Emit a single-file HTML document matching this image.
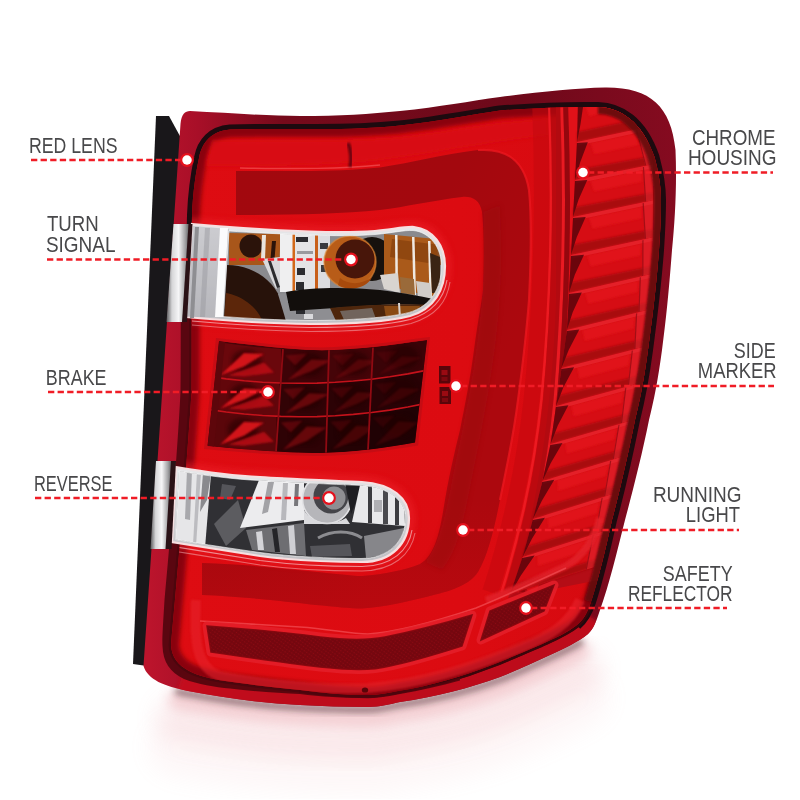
<!DOCTYPE html>
<html><head><meta charset="utf-8"><title>Tail light features</title>
<style>html,body{margin:0;padding:0;background:#fff}svg{display:block}</style>
</head><body>
<svg width="800" height="800" viewBox="0 0 800 800">
<defs>
<linearGradient id="houseG" gradientUnits="userSpaceOnUse" x1="150" y1="0" x2="680" y2="0">
 <stop offset="0" stop-color="#bb142c"/><stop offset="0.09" stop-color="#a80f28"/><stop offset="0.25" stop-color="#760a1b"/><stop offset="0.7" stop-color="#6e091a"/><stop offset="1" stop-color="#860b20"/>
</linearGradient>
<linearGradient id="lensG" gradientUnits="userSpaceOnUse" x1="160" y1="0" x2="660" y2="0">
 <stop offset="0" stop-color="#de0c12"/><stop offset="0.6" stop-color="#dc0b11"/><stop offset="1" stop-color="#d40a10"/>
</linearGradient>
<linearGradient id="tubeG" gradientUnits="userSpaceOnUse" x1="230" y1="160" x2="520" y2="330">
 <stop offset="0" stop-color="#a2080e"/><stop offset="0.6" stop-color="#a3080e"/><stop offset="1" stop-color="#ac080e"/>
</linearGradient>
<linearGradient id="chromeV" x1="0" y1="0" x2="1" y2="0">
 <stop offset="0" stop-color="#5a5a5c"/><stop offset="0.25" stop-color="#d6d6d8"/><stop offset="0.55" stop-color="#f6f6f7"/><stop offset="0.85" stop-color="#a2a2a4"/><stop offset="1" stop-color="#6a6a6c"/>
</linearGradient>
<linearGradient id="winG" x1="0" y1="0" x2="0" y2="1">
 <stop offset="0" stop-color="#e8e8ea"/><stop offset="1" stop-color="#c0c0c4"/>
</linearGradient>
<linearGradient id="reflG" gradientUnits="userSpaceOnUse" x1="0" y1="690" x2="0" y2="790">
 <stop offset="0" stop-color="#e2747c" stop-opacity="0.5"/><stop offset="0.3" stop-color="#ee9096" stop-opacity="0.25"/><stop offset="1" stop-color="#ffffff" stop-opacity="0"/>
</linearGradient>
<pattern id="mesh" width="3" height="3" patternUnits="userSpaceOnUse" patternTransform="rotate(35)">
 <rect width="3" height="3" fill="#7c0810"/><circle cx="1.5" cy="1.5" r="0.8" fill="#9c0d16"/>
</pattern>
<clipPath id="tubeClip"><path d="M236,171 L300,171 C330,171 355,170 380,167.5 C410,163 445,154 478,150 C505,148 524,160 529,190 C532,220 531,260 529,300 C526,340 522,370 518,400 C513,440 506,470 500,500 C494,530 488,555 478,572 C470,584 455,590 430,596 C405,602 385,607 362,608.5 C330,608 262,597 202,595 L202,563 C255,564.5 315,572 352,575.5 C356,576 359,576 362,576 C385,574 405,570 420,564 C434,556 439,535 443,512 C448,480 455,450 460,430 C465,405 470,380 474,350 C478,320 482,300 483,290 C484,260 484,230 482,212 C480,200 472,196 462,197 C435,200 405,207 380,210 C340,214 290,215 236,215 Z"/></clipPath>
<linearGradient id="tubeFade" gradientUnits="userSpaceOnUse" x1="0" y1="500" x2="0" y2="610">
 <stop offset="0" stop-color="#d80b11" stop-opacity="0"/><stop offset="1" stop-color="#d80b11" stop-opacity="0.28"/>
</linearGradient>
<clipPath id="lensClip"><path d="M230,129.5 C255,128.5 278,129 300,129 C340,129.5 370,128.5 400,125.5 C440,121 470,115 500,110.5 C540,107.5 570,106.5 598,107 C620,107.5 642,121 654.5,157 C658,170 661,185 661,200 C661,220 660,235 659,250 C656,290 652,320 648,350 C644,380 640,400 635,420 C628,455 620,490 612,520 C605,552 598,580 591,602 C587,614 583,620 577,625 C567,633 555,638 540,645 C523,652 508,659 492,665 C464,676 430,686 398,691 C388,693 378,695 368,695 C345,695 322,693 300,690 C270,687 245,684 225,681 C198,677 172,669 171,645 C175,600 186,480 191.5,392 C192,330 191,260 192,215 C193,190 196,172 199,158 C202,142 212,131 230,129.5 Z"/></clipPath>
<clipPath id="outClip"><path d="M190,111 C230,113 270,116 300,116 C340,116 370,114 400,111 C440,107 470,101 500,97 C540,92 575,88 605,87.5 C650,87 671,106 675.5,150 C677,185 675,220 672,250 C669,290 666,320 662,350 C658,380 654,400 649,420 C642,455 633,490 625,520 C617,552 609,585 600,610 C596,622 594,628 588,634 C578,642 565,648 550,655 C535,662 518,670 500,677 C470,688 435,697 400,702 C390,704 380,707 368,707 C345,707 322,706 300,705 C262,703 224,698 188,691 C164,686 148,680 143.5,666 L180.5,124 C181.5,114 185,111 190,111 Z"/></clipPath>
<clipPath id="turnClip"><path d="M229,231 C250,232.5 280,234 310,235 C335,236 355,236 375,234.5 C392,233 404,230 413,230.5 C430,232 441.5,248 441.5,266 C441.5,288 431,306 409,312.5 C389,317.5 350,320.5 310,320.5 C275,320 250,318.5 223,316.5 Z"/></clipPath>
<clipPath id="revClip"><path d="M179,471 C205,475.5 235,479.5 260,480.5 C290,482.5 330,484 361,485.5 C388,487 405.5,500 405.5,518 C405.5,541 389,558.5 361,558.5 C330,558.5 290,556.5 260,552.5 C235,549 205,544.5 175.5,539.5 Z"/></clipPath>
<clipPath id="brakeClip"><path d="M219,341 C255,345 290,350 322,350.5 C355,350 390,345 427,340 L415,442.5 C385,448 355,452 322,453 C290,453 250,450 207.5,446 Z"/></clipPath>
<filter id="b1"><feGaussianBlur stdDeviation="0.8"/></filter>
<filter id="b2"><feGaussianBlur stdDeviation="2"/></filter>
<filter id="b3"><feGaussianBlur stdDeviation="3"/></filter>
<filter id="b10" x="-20%" y="-50%" width="140%" height="200%"><feGaussianBlur stdDeviation="11"/></filter>
<filter id="b6" x="-20%" y="-50%" width="140%" height="200%"><feGaussianBlur stdDeviation="6"/></filter>
</defs>
<rect width="800" height="800" fill="#fff"/>

<!-- floor reflection -->
<g fill="none" stroke-linecap="round">
 <path d="M178,689 C181,690 184,691 188,691 C224,698 262,703 300,705 C322,706 345,707 368,707 C380,707 390,704 400,702 C435,697 470,688 500,677 C518,670 535,662 550,655 C562,649 572,645 580,640" transform="translate(0,58)" stroke="#eea0a8" stroke-width="60" opacity="0.08" filter="url(#b10)"/>
 <path d="M178,689 C181,690 184,691 188,691 C224,698 262,703 300,705 C322,706 345,707 368,707 C380,707 390,704 400,702 C435,697 470,688 500,677 C518,670 535,662 550,655 C562,649 572,645 580,640" transform="translate(0,30)" stroke="#e8909a" stroke-width="46" opacity="0.15" filter="url(#b10)"/>
 <path d="M178,689 C181,690 184,691 188,691 C224,698 262,703 300,705 C322,706 345,707 368,707 C380,707 390,704 400,702 C435,697 470,688 500,677 C518,670 535,662 550,655 C562,649 572,645 580,640" transform="translate(0,10)" stroke="#e0808a" stroke-width="20" opacity="0.3" filter="url(#b6)"/>
 <path d="M178,689 C181,690 184,691 188,691 C224,698 262,703 300,705 C322,706 345,707 368,707 C380,707 390,704 400,702 C435,697 470,688 500,677 C518,670 535,662 550,655 C562,649 572,645 580,640" transform="translate(0,2.5)" stroke="#40181c" stroke-width="7" opacity="0.5" filter="url(#b3)"/>
</g>

<!-- bracket -->
<path d="M156,116 L169,116 L181,138 L181,150 L147,666 L133,664 Z" fill="#19171a"/>
<!-- housing -->
<path d="M190,111 C230,113 270,116 300,116 C340,116 370,114 400,111 C440,107 470,101 500,97 C540,92 575,88 605,87.5 C650,87 671,106 675.5,150 C677,185 675,220 672,250 C669,290 666,320 662,350 C658,380 654,400 649,420 C642,455 633,490 625,520 C617,552 609,585 600,610 C596,622 594,628 588,634 C578,642 565,648 550,655 C535,662 518,670 500,677 C470,688 435,697 400,702 C390,704 380,707 368,707 C345,707 322,706 300,705 C262,703 224,698 188,691 C164,686 148,680 143.5,666 L180.5,124 C181.5,114 185,111 190,111 Z" fill="url(#houseG)"/>
<g clip-path="url(#outClip)">
  <path d="M178,689 C181,690 184,691 188,691 C224,698 262,703 300,705 C322,706 345,707 368,707 C380,707 390,704 400,702 C435,697 470,688 500,677 C518,670 535,662 550,655 C562,649 572,645 580,640 C588,634 594,628 598,622" fill="none" stroke="#c60e1c" stroke-width="34" opacity="0.9" filter="url(#b2)"/>
  <path d="M230,129.5 C255,128.5 278,129 300,129 C340,129.5 370,128.5 400,125.5 C440,121 470,115 500,110.5 C540,107.5 570,106.5 598,107 C620,107.5 642,121 654.5,157 C658,170 661,185 661,200 C661,220 660,235 659,250 C656,290 652,320 648,350 C644,380 640,400 635,420 C628,455 620,490 612,520 C605,552 598,580 591,602 C587,614 583,620 577,625 C567,633 555,638 540,645 C523,652 508,659 492,665 C464,676 430,686 398,691 C388,693 378,695 368,695 C345,695 322,693 300,690 C270,687 245,684 225,681 C198,677 172,669 171,645 C175,600 186,480 191.5,392 C192,330 191,260 192,215 C193,190 196,172 199,158 C202,142 212,131 230,129.5 Z" fill="none" stroke="#2a0a10" stroke-width="5"/>
  <path d="M191.8,224 L192,215 C193,190 196,172 199,158 C202,142 212,131 230,129.5 C255,128.5 278,129 300,129 C340,129.5 370,128.5 400,125.5 C440,121 470,115 500,110.5 C540,107.5 570,106.5 598,107 C620,107.5 642,121 654.5,157 C658,170 661,185 661,200 C661,220 660,235 659,250 C656,290 652,320 648,350 C644,380 640,400 635,420 C628,455 620,490 612,520 C605,552 598,580 591,602 C587,614 583,620 577,625" fill="none" stroke="#1d0a0f" stroke-width="10" stroke-linecap="butt"/>
  <path d="M191.8,224 L181,224 C180.5,280 181,340 180.5,392 C177,460 170,540 164.5,600 C163,625 162,640 162.5,646 C163,662 170,672 184,679 C198,684.5 215,687 230,688.5 C255,691.5 280,693 300,694 L300,690 C270,687 245,684 225,681 C198,677 172,669 171,645 C175,600 186,480 191.5,392 C192,330 191,260 191.8,224 Z" fill="#50060d" opacity="0.9"/>
  <path d="M300,690 C322,693 345,695 368,695 C378,695 388,693 398,691 C430,686 464,676 492,665 C508,659 523,652 540,645 C555,638 567,633 577,625 C583,620 587,614 591,602" fill="none" stroke="#3c050b" stroke-width="5.5" opacity="0.9"/>
  <path d="M300,694 C320,696.5 345,698.2 368,698.2 C380,698 390,696 400,694 C420,690.5 440,686 460,680.5 L460,677.5 C440,683.5 418,688 398,691 C388,693 378,695 368,695 C345,695 322,693 300,690 Z" fill="#50060d" opacity="0.9"/>
  <path d="M230,129.5 C255,128.5 278,129 300,129 C340,129.5 370,128.5 400,125.5 C440,121 470,115 500,110.5 C540,107.5 570,106.5 598,107 C620,107.5 642,121 654.5,157 C658,170 661,185 661,200 C661,220 660,235 659,250 C656,290 652,320 648,350 C644,380 640,400 635,420 C628,455 620,490 612,520 C605,552 598,580 591,602 C587,614 583,620 577,625 C567,633 555,638 540,645 C523,652 508,659 492,665 C464,676 430,686 398,691 C388,693 378,695 368,695 C345,695 322,693 300,690 C270,687 245,684 225,681 C198,677 172,669 171,645 C175,600 186,480 191.5,392 C192,330 191,260 192,215 C193,190 196,172 199,158 C202,142 212,131 230,129.5 Z" fill="url(#lensG)"/>
</g>
<g clip-path="url(#lensClip)">
  <!-- inner dark rim of lens -->
  <path d="M230,129.5 C255,128.5 278,129 300,129 C340,129.5 370,128.5 400,125.5 C440,121 470,115 500,110.5 C540,107.5 570,106.5 598,107 C620,107.5 642,121 654.5,157 C658,170 661,185 661,200 C661,220 660,235 659,250 C656,290 652,320 648,350 C644,380 640,400 635,420 C628,455 620,490 612,520 C605,552 598,580 591,602 C587,614 583,620 577,625 C567,633 555,638 540,645 C523,652 508,659 492,665 C464,676 430,686 398,691 C388,693 378,695 368,695 C345,695 322,693 300,690 C270,687 245,684 225,681 C198,677 172,669 171,645 C175,600 186,480 191.5,392 C192,330 191,260 192,215 C193,190 196,172 199,158 C202,142 212,131 230,129.5 Z" fill="none" stroke="#7c060c" stroke-width="16" opacity="0.85" filter="url(#b2)"/>
  <!-- top bright band highlight -->
  <path d="M212,140 C300,141 350,141 400,137 C440,133 480,124 520,121 L548,118 L548,135 C500,140 440,152 380,160 C330,166 260,166 206,166 Z" fill="#d81118" opacity="0.9" filter="url(#b2)"/>
  <path d="M240,168 C300,169 340,169 380,165" stroke="#f0484c" stroke-width="1.5" fill="none" opacity="0.8"/>
  <path d="M348,143 C351,150 352,160 350,167" stroke="#4a060a" stroke-width="3.5" fill="none" opacity="0.8" filter="url(#b1)"/>
  <!-- fins column background -->
  <path d="M556,100 L700,80 L700,560 L508,598 C532,540 552,420 556,300 Z" fill="#b40d16"/>
  <!-- vertical strips between tube and fins -->
  <path d="M540.0,100 C544.0,200 542.0,300 531.5,400 C523.8,470 507.0,540 490.2,592" fill="none" stroke="#c2090f" stroke-width="16" opacity="0.55"/><path d="M549.0,100 C553.0,200 551.0,300 541.4,400 C534.1,470 517.8,540 501.5,592" fill="none" stroke="#ee1c24" stroke-width="2.5" opacity="0.9"/><path d="M555.0,100 C559.0,200 557.0,300 548.0,400 C541.0,470 525.0,540 509.0,592" fill="none" stroke="#b2090f" stroke-width="10" opacity="0.75"/><path d="M561.5,100 C565.5,200 563.5,300 555.1,400 C548.5,470 532.8,540 517.1,592" fill="none" stroke="#ee1c24" stroke-width="3" opacity="0.9"/><path d="M565.5,100 C569.5,200 567.5,300 559.5,400 C553.1,470 537.6,540 522.1,592" fill="none" stroke="#8e070d" stroke-width="5" opacity="0.85"/><path d="M573.0,100 C577.0,200 575.0,300 567.8,400 C561.7,470 546.6,540 531.5,592" fill="none" stroke="#e4121a" stroke-width="10" opacity="0.9"/>
  <polygon points="577.9,104.0 610.2,90.4 644.8,127.4 577.0,142.0" fill="#d60d14"/><polygon points="577.2,132.1 637.2,119.2 644.8,127.4 577.0,142.0" fill="#9a0910" opacity="0.75" filter="url(#b1)"/><polygon points="585.0,105.1 608.6,96.0 618.1,107.9 589.3,116.5" fill="#e4151c" opacity="0.75" filter="url(#b1)"/><polygon points="577.9,104.0 610.2,90.4 613.6,94.1 578.5,107.5" fill="#ea2a32" opacity="0.7"/><polygon points="577.9,105.1 583.4,104.5 580.5,124.0 577.0,142.0" fill="#5c050b" opacity="0.88"/><polygon points="606.6,92.9 610.2,90.4 644.8,127.4 638.0,128.8" fill="#e42832" opacity="0.55"/><polygon points="606.6,92.9 607.1,92.7 639.0,128.6 638.0,128.8" fill="#8a0810" opacity="0.7"/><polygon points="577.0,142.0 644.8,127.4 653.0,164.3 575.0,180.0" fill="#d60d14"/><polygon points="575.5,170.1 651.2,156.2 653.0,164.3 575.0,180.0" fill="#9a0910" opacity="0.75" filter="url(#b1)"/><polygon points="590.6,142.9 636.0,133.1 638.1,145.0 594.2,154.2" fill="#e4151c" opacity="0.75" filter="url(#b1)"/><polygon points="577.0,142.0 644.8,127.4 645.6,131.1 578.2,145.5" fill="#ea2a32" opacity="0.7"/><polygon points="576.9,143.1 587.8,142.3 580.3,162.0 575.0,180.0" fill="#5c050b" opacity="0.88"/><polygon points="636.1,130.0 644.8,127.4 653.0,164.3 645.2,165.9" fill="#e42832" opacity="0.55"/><polygon points="636.1,130.0 637.1,129.8 646.4,165.7 645.2,165.9" fill="#8a0810" opacity="0.7"/><polygon points="575.0,180.0 653.0,164.3 653.0,200.3 573.0,217.0" fill="#d60d14"/><polygon points="573.5,207.4 653.0,192.4 653.0,200.3 573.0,217.0" fill="#9a0910" opacity="0.75" filter="url(#b1)"/><polygon points="590.4,180.5 642.0,170.1 642.0,181.7 593.9,191.5" fill="#e4151c" opacity="0.75" filter="url(#b1)"/><polygon points="575.0,180.0 653.0,164.3 653.0,167.9 576.3,183.4" fill="#ea2a32" opacity="0.7"/><polygon points="574.9,181.1 587.3,180.1 578.6,199.4 573.0,217.0" fill="#5c050b" opacity="0.88"/><polygon points="642.9,167.1 653.0,164.3 653.0,200.3 645.0,202.0" fill="#e42832" opacity="0.55"/><polygon points="642.9,167.1 644.0,166.9 646.2,201.8 645.0,202.0" fill="#8a0810" opacity="0.7"/><polygon points="573.0,217.0 653.0,200.3 653.0,237.3 571.0,255.0" fill="#d60d14"/><polygon points="571.5,245.1 653.0,229.2 653.0,237.3 571.0,255.0" fill="#9a0910" opacity="0.75" filter="url(#b1)"/><polygon points="588.8,217.4 641.8,206.4 641.7,218.3 592.4,228.7" fill="#e4151c" opacity="0.75" filter="url(#b1)"/><polygon points="573.0,217.0 653.0,200.3 653.0,204.0 574.4,220.5" fill="#ea2a32" opacity="0.7"/><polygon points="573.0,218.1 585.7,217.0 576.8,236.9 571.0,255.0" fill="#5c050b" opacity="0.88"/><polygon points="642.6,203.2 653.0,200.3 653.0,237.3 644.8,239.1" fill="#e42832" opacity="0.55"/><polygon points="642.6,203.2 643.8,203.0 646.0,238.8 644.8,239.1" fill="#8a0810" opacity="0.7"/><polygon points="571.0,255.0 653.0,237.3 650.3,274.3 569.0,293.0" fill="#d60d14"/><polygon points="569.5,283.1 650.9,266.2 650.3,274.3 569.0,293.0" fill="#9a0910" opacity="0.75" filter="url(#b1)"/><polygon points="587.2,255.2 641.3,243.5 640.4,255.4 590.6,266.4" fill="#e4151c" opacity="0.75" filter="url(#b1)"/><polygon points="571.0,255.0 653.0,237.3 652.7,241.0 572.4,258.4" fill="#ea2a32" opacity="0.7"/><polygon points="570.9,256.1 584.0,254.8 574.8,274.8 569.0,293.0" fill="#5c050b" opacity="0.88"/><polygon points="642.3,240.4 653.0,237.3 650.3,274.3 642.2,276.2" fill="#e42832" opacity="0.55"/><polygon points="642.3,240.4 643.5,240.1 643.4,275.9 642.2,276.2" fill="#8a0810" opacity="0.7"/><polygon points="569.0,293.0 650.3,274.3 646.4,310.3 567.0,330.0" fill="#d60d14"/><polygon points="567.5,320.4 647.2,302.4 646.4,310.3 567.0,330.0" fill="#9a0910" opacity="0.75" filter="url(#b1)"/><polygon points="585.0,292.9 638.6,280.5 637.4,292.1 588.3,303.8" fill="#e4151c" opacity="0.75" filter="url(#b1)"/><polygon points="569.0,293.0 650.3,274.3 649.9,277.9 570.4,296.3" fill="#ea2a32" opacity="0.7"/><polygon points="568.9,294.1 581.8,292.6 572.7,312.2 567.0,330.0" fill="#5c050b" opacity="0.88"/><polygon points="639.7,277.4 650.3,274.3 646.4,310.3 638.4,312.3" fill="#e42832" opacity="0.55"/><polygon points="639.7,277.4 640.9,277.2 639.6,312.0 638.4,312.3" fill="#8a0810" opacity="0.7"/><polygon points="567.0,330.0 646.4,310.3 642.3,347.3 561.5,368.0" fill="#d60d14"/><polygon points="563.0,358.1 643.2,339.1 642.3,347.3 561.5,368.0" fill="#9a0910" opacity="0.75" filter="url(#b1)"/><polygon points="582.4,329.8 634.8,316.8 633.5,328.6 584.7,340.9" fill="#e4151c" opacity="0.75" filter="url(#b1)"/><polygon points="567.0,330.0 646.4,310.3 646.0,314.0 568.0,333.4" fill="#ea2a32" opacity="0.7"/><polygon points="566.8,331.1 579.3,329.5 568.8,349.7 561.5,368.0" fill="#5c050b" opacity="0.88"/><polygon points="636.0,313.6 646.4,310.3 642.3,347.3 634.2,349.3" fill="#e42832" opacity="0.55"/><polygon points="636.0,313.6 637.2,313.3 635.4,349.0 634.2,349.3" fill="#8a0810" opacity="0.7"/><polygon points="561.5,368.0 642.3,347.3 635.6,384.2 556.1,406.0" fill="#d60d14"/><polygon points="557.5,396.1 637.1,376.1 635.6,384.2 556.1,406.0" fill="#9a0910" opacity="0.75" filter="url(#b1)"/><polygon points="577.1,367.6 630.3,353.9 628.3,365.8 579.3,378.7" fill="#e4151c" opacity="0.75" filter="url(#b1)"/><polygon points="561.5,368.0 642.3,347.3 641.6,351.0 562.6,371.4" fill="#ea2a32" opacity="0.7"/><polygon points="561.4,369.1 574.1,367.3 563.3,387.6 556.1,406.0" fill="#5c050b" opacity="0.88"/><polygon points="631.7,350.7 642.3,347.3 635.6,384.2 627.7,386.4" fill="#e42832" opacity="0.55"/><polygon points="631.7,350.7 632.9,350.4 628.9,386.1 627.7,386.4" fill="#8a0810" opacity="0.7"/><polygon points="556.1,406.0 635.6,384.2 628.7,421.2 550.6,444.0" fill="#d60d14"/><polygon points="552.0,434.1 630.2,413.1 628.7,421.2 550.6,444.0" fill="#9a0910" opacity="0.75" filter="url(#b1)"/><polygon points="571.4,405.4 623.8,391.0 621.7,402.9 573.5,416.4" fill="#e4151c" opacity="0.75" filter="url(#b1)"/><polygon points="556.1,406.0 635.6,384.2 634.9,387.9 557.1,409.4" fill="#ea2a32" opacity="0.7"/><polygon points="555.9,407.1 568.4,405.2 557.8,425.6 550.6,444.0" fill="#5c050b" opacity="0.88"/><polygon points="625.2,387.8 635.6,384.2 628.7,421.2 620.9,423.5" fill="#e42832" opacity="0.55"/><polygon points="625.2,387.8 626.4,387.5 622.1,423.1 620.9,423.5" fill="#8a0810" opacity="0.7"/><polygon points="550.6,444.0 628.7,421.2 620.4,457.2 542.5,481.0" fill="#d60d14"/><polygon points="544.6,471.4 622.3,449.3 620.4,457.2 542.5,481.0" fill="#9a0910" opacity="0.75" filter="url(#b1)"/><polygon points="565.4,443.1 617.0,428.0 614.3,439.6 566.7,453.7" fill="#e4151c" opacity="0.75" filter="url(#b1)"/><polygon points="550.6,444.0 628.7,421.2 627.9,424.8 551.3,447.2" fill="#ea2a32" opacity="0.7"/><polygon points="550.3,445.1 562.5,442.9 550.8,462.9 542.5,481.0" fill="#5c050b" opacity="0.88"/><polygon points="618.4,424.9 628.7,421.2 620.4,457.2 612.6,459.6" fill="#e42832" opacity="0.55"/><polygon points="618.4,424.9 619.6,424.6 613.8,459.2 612.6,459.6" fill="#8a0810" opacity="0.7"/><polygon points="542.5,481.0 620.4,457.2 611.9,494.2 533.0,519.0" fill="#d60d14"/><polygon points="535.5,509.1 613.8,486.1 611.9,494.2 533.0,519.0" fill="#9a0910" opacity="0.75" filter="url(#b1)"/><polygon points="557.2,480.0 608.7,464.3 605.9,476.1 558.1,490.9" fill="#e4151c" opacity="0.75" filter="url(#b1)"/><polygon points="542.5,481.0 620.4,457.2 619.6,460.9 543.1,484.3" fill="#ea2a32" opacity="0.7"/><polygon points="542.2,482.1 554.3,479.8 542.0,500.4 533.0,519.0" fill="#5c050b" opacity="0.88"/><polygon points="610.1,461.0 620.4,457.2 611.9,494.2 604.0,496.7" fill="#e42832" opacity="0.55"/><polygon points="610.1,461.0 611.3,460.7 605.2,496.3 604.0,496.7" fill="#8a0810" opacity="0.7"/><polygon points="533.0,519.0 611.9,494.2 603.1,531.2 522.6,557.0" fill="#d60d14"/><polygon points="525.3,547.1 605.1,523.0 603.1,531.2 522.6,557.0" fill="#9a0910" opacity="0.75" filter="url(#b1)"/><polygon points="547.8,517.8 600.0,501.4 597.1,513.3 548.5,528.6" fill="#e4151c" opacity="0.75" filter="url(#b1)"/><polygon points="533.0,519.0 611.9,494.2 611.1,497.9 533.5,522.3" fill="#ea2a32" opacity="0.7"/><polygon points="532.7,520.1 544.9,517.7 532.1,538.4 522.6,557.0" fill="#5c050b" opacity="0.88"/><polygon points="601.5,498.2 611.9,494.2 603.1,531.2 595.1,533.7" fill="#e42832" opacity="0.55"/><polygon points="601.5,498.2 602.7,497.8 596.3,533.4 595.1,533.7" fill="#8a0810" opacity="0.7"/><polygon points="522.6,557.0 603.1,531.2 593.9,567.2 510.2,594.0" fill="#d60d14"/><polygon points="513.4,584.4 596.0,559.2 593.9,567.2 510.2,594.0" fill="#9a0910" opacity="0.75" filter="url(#b1)"/><polygon points="537.5,555.5 590.9,538.4 587.8,550.0 537.8,566.0" fill="#e4151c" opacity="0.75" filter="url(#b1)"/><polygon points="522.6,557.0 603.1,531.2 602.2,534.8 522.9,560.2" fill="#ea2a32" opacity="0.7"/><polygon points="522.2,558.1 534.6,555.4 520.7,575.8 510.2,594.0" fill="#5c050b" opacity="0.88"/><polygon points="592.5,535.2 603.1,531.2 593.9,567.2 585.5,569.8" fill="#e42832" opacity="0.55"/><polygon points="592.5,535.2 593.7,534.9 586.8,569.4 585.5,569.8" fill="#8a0810" opacity="0.7"/>
  <!-- dark zone between fins and housing line -->
  <path d="M598,107 C620,107.5 642,121 654.5,157 C658,170 661,185 661,200 C661,220 660,235 659,250 C656,290 652,320 648,350 C644,380 640,400 635,420 C628,455 620,490 612,520 C605,552 598,580 591,602" fill="none" stroke="#640810" stroke-width="14" opacity="0.9" filter="url(#b1)"/>
  <!-- ridge under fins -->
  <path d="M486,600 C510,592 540,578 566,566 C584,556 594,540 600,518" fill="none" stroke="#e2202a" stroke-width="7" opacity="0.85" filter="url(#b1)"/>
  <!-- tube -->
  <path d="M236,171 L300,171 C330,171 355,170 380,167.5 C410,163 445,154 478,150 C505,148 524,160 529,190 C532,220 531,260 529,300 C526,340 522,370 518,400 C513,440 506,470 500,500 C494,530 488,555 478,572 C470,584 455,590 430,596 C405,602 385,607 362,608.5 C330,608 262,597 202,595 L202,563 C255,564.5 315,572 352,575.5 C356,576 359,576 362,576 C385,574 405,570 420,564 C434,556 439,535 443,512 C448,480 455,450 460,430 C465,405 470,380 474,350 C478,320 482,300 483,290 C484,260 484,230 482,212 C480,200 472,196 462,197 C435,200 405,207 380,210 C340,214 290,215 236,215 Z" fill="url(#tubeG)"/>
  <g clip-path="url(#tubeClip)"><rect x="190" y="430" width="340" height="190" fill="url(#tubeFade)"/></g>
  <path d="M478,150 C505,148 524,160 529,190 C532,220 531,260 529,300 C526,340 522,370 518,400 C513,440 506,470 500,500" fill="none" stroke="#ea161e" stroke-width="2.2" opacity="0.8"/>
  <!-- tube inner shading: darker inner half on vertical bar -->
  <path d="M483,212 C485,260 484,290 478,335 C472,385 462,430 452,480 C446,510 440,545 425,562 L442,570 C458,550 464,520 470,488 C480,440 490,390 496,340 C502,290 502,250 500,205 Z" fill="#9a080e" opacity="0.5" filter="url(#b2)"/>
  <!-- ridge highlight lines around reflector -->
  <path d="M196,600 C194,640 196,668 220,676 C260,684 320,690 368,688 C420,684 470,668 520,648 C550,636 570,624 580,600" fill="none" stroke="#e8262f" stroke-width="10" opacity="0.55" filter="url(#b1)"/>
  <path d="M200,621 L300,627 C330,629 350,634 368,634 C400,632 440,620 476,608 C500,598 540,580 566,568" fill="none" stroke="#f0474e" stroke-width="1.6" opacity="0.8"/>
  <!-- reflectors -->
  <path d="M207,626 C250,629 290,633 320,637 C345,640 365,641 385,637 C415,631 445,623 472,615 L462,646 C440,653 415,661 390,666 C370,671 350,670 320,667 C285,663 245,657 211,652 Z" fill="none" stroke="#e4202a" stroke-width="9" stroke-linejoin="round" opacity="0.85"/>
  <path d="M481,640 L490,611 L554,585 L544,611 Z" fill="none" stroke="#e4202a" stroke-width="9" stroke-linejoin="round" opacity="0.85"/>
  <path d="M207,626 C250,629 290,633 320,637 C345,640 365,641 385,637 C415,631 445,623 472,615 L462,646 C440,653 415,661 390,666 C370,671 350,670 320,667 C285,663 245,657 211,652 Z" fill="url(#mesh)" stroke="#8c0910" stroke-width="1.5"/>
  <path d="M481,640 L490,611 L554,585 L544,611 Z" fill="url(#mesh)" stroke="#8c0910" stroke-width="1.5"/>
  <path d="M207,626 C250,629 290,633 320,637 C345,640 365,641 385,637 C415,631 445,623 472,615 L462,646 C440,653 415,661 390,666 C370,671 350,670 320,667 C285,663 245,657 211,652 Z" fill="#5a050a" opacity="0.25"/>
  <path d="M481,640 L490,611 L554,585 L544,611 Z" fill="#5a050a" opacity="0.25"/>
  <ellipse cx="365" cy="690" rx="3.2" ry="2.6" fill="#5a0509"/>
</g>

<!-- glows around windows -->
<g clip-path="url(#lensClip)"><g fill="none" stroke="#ee222a" filter="url(#b3)" opacity="0.55">
  <path d="M192,224 C230,227.5 270,230 310,231.5 C335,232.5 355,232.5 375,231 C392,229.5 404,226.5 414,227 C433,229 445,246 445,266 C445,290 434,309 410,316 C390,321 350,324 310,324 C270,323.5 230,321 186,317 Z" stroke-width="12"/>
  <path d="M176,467 C205,472 235,476 260,477 C290,479 330,480.5 362,482 C392,484 409,498 409,518 C409,543 392,562 362,562 C330,562 290,560 260,556 C235,552 205,547 172,542 Z" stroke-width="12"/>
</g></g>
<!-- reflection lines under windows -->
<g fill="none" stroke="#f4b4b8" stroke-width="1.1" opacity="0.75" clip-path="url(#lensClip)">
  <path d="M447,280 C444,298 434,312 410,319.5 C390,324.5 350,327.5 310,327.5 C270,327 230,324.5 192,321"/>
  <path d="M450,282 C447,302 436,316 411,323.5 C390,328.5 350,331.5 310,331.5 C270,331 230,328.5 192,325" opacity="0.7"/>
  <path d="M412,530 C409,550 392,566 362,566.5 C330,566.5 290,564.5 260,560.5 C235,556.5 205,551.5 176,547"/>
  <path d="M415,533 C411,555 393,570.5 362,571 C330,571 290,569 260,565 C235,561 205,556 176,551.5" opacity="0.7"/>
</g>
<!-- side marker -->
<rect x="439" y="366" width="11.5" height="17.5" fill="#5a050a"/><rect x="439.5" y="387" width="11.5" height="17" fill="#5a050a"/>
<rect x="441.5" y="370" width="6" height="5" fill="#9a0a12"/><rect x="442" y="391" width="6" height="5" fill="#9a0a12"/>
<rect x="441.5" y="377" width="6" height="4" fill="#7e080f"/><rect x="442" y="398" width="6" height="4" fill="#7e080f"/>

<!-- brake -->
<path d="M216,338 C255,342 290,347 322,347.5 C355,347 390,342 430,337 L418,445.5 C385,451 355,455 322,456 C290,456 250,453 204,449 Z" fill="#b80d15" opacity="0.6"/>
<g clip-path="url(#brakeClip)">
<path d="M219,341 C255,345 290,350 322,350.5 C355,350 390,345 427,340 L415,442.5 C385,448 355,452 322,453 C290,453 250,450 207.5,446 Z" fill="#4a0408"/>
<polygon points="203.8,339.5 216.7,341.8 229.6,343.8 242.5,345.5 255.5,346.9 268.4,348.1 281.3,349.0 281.3,383.0 268.4,382.5 255.5,381.7 242.5,380.6 229.6,379.3 216.7,377.7 203.8,375.8" fill="#6a070c"/><ellipse cx="246.5" cy="361.5" rx="15" ry="12" fill="#240204" opacity="0.55" filter="url(#b2)"/><path d="M220.0,375.6 L244.0,352.9 L264.0,353.9 L244.0,366.6 Z" fill="#e0121b" opacity="0.92" filter="url(#b1)"/><path d="M228.0,375.6 L264.0,362.6 L274.0,372.6 L244.0,376.6 Z" fill="#c30e17" opacity="0.8" filter="url(#b1)"/><polygon points="281.3,349.0 289.1,349.4 297.0,349.7 304.8,349.9 312.6,350.0 320.4,350.0 328.3,349.9 328.3,382.7 320.4,383.0 312.6,383.2 304.8,383.3 297.0,383.3 289.1,383.2 281.3,383.0" fill="#3e0307"/><ellipse cx="308.8" cy="364.6" rx="15" ry="12" fill="#240204" opacity="0.55" filter="url(#b2)"/><path d="M287.3,380.3 L311.3,359.5 L331.3,360.5 L311.3,371.3 Z" fill="#e0121b" opacity="0.34" filter="url(#b1)"/><path d="M285.3,355.5 L307.3,353.5 L295.3,365.5 Z" fill="#b30c15" opacity="0.34" filter="url(#b1)"/><polygon points="328.3,349.9 335.5,349.7 342.8,349.5 350.0,349.1 357.3,348.7 364.5,348.2 371.8,347.6 371.8,379.1 364.5,379.9 357.3,380.7 350.0,381.3 342.8,381.8 335.5,382.3 328.3,382.7" fill="#450408"/><ellipse cx="354.0" cy="362.9" rx="15" ry="12" fill="#240204" opacity="0.55" filter="url(#b2)"/><path d="M334.3,379.1 L358.3,359.6 L378.3,360.6 L358.3,370.1 Z" fill="#e0121b" opacity="0.2" filter="url(#b1)"/><path d="M332.3,355.6 L354.3,353.6 L342.3,365.6 Z" fill="#b30c15" opacity="0.2" filter="url(#b1)"/><polygon points="371.8,347.6 381.1,346.7 390.4,345.6 399.7,344.5 409.0,343.1 418.3,341.7 427.6,340.1 427.6,370.1 418.3,371.9 409.0,373.7 399.7,375.2 390.4,376.7 381.1,378.0 371.8,379.1" fill="#3a0307"/><ellipse cx="403.7" cy="357.2" rx="15" ry="12" fill="#240204" opacity="0.55" filter="url(#b2)"/><path d="M377.8,374.9 L401.8,356.6 L421.8,357.6 L401.8,365.9 Z" fill="#e0121b" opacity="0.13" filter="url(#b1)"/><path d="M375.8,352.6 L397.8,350.6 L385.8,362.6 Z" fill="#b30c15" opacity="0.13" filter="url(#b1)"/><polygon points="202.2,375.5 215.0,377.4 227.8,379.1 240.6,380.4 253.4,381.5 266.3,382.4 279.1,383.0 279.1,416.4 266.3,415.7 253.4,414.8 240.6,413.7 227.8,412.2 215.0,410.4 202.2,408.4" fill="#62060b"/><ellipse cx="244.6" cy="395.4" rx="15" ry="12" fill="#240204" opacity="0.55" filter="url(#b2)"/><path d="M220.0,408.7 L244.0,388.6 L264.0,389.6 L244.0,399.7 Z" fill="#e0121b" opacity="0.92" filter="url(#b1)"/><path d="M228.0,408.7 L264.0,395.7 L274.0,405.7 L244.0,409.7 Z" fill="#c30e17" opacity="0.8" filter="url(#b1)"/><polygon points="279.1,383.0 287.1,383.2 295.1,383.3 303.2,383.3 311.2,383.2 319.3,383.0 327.3,382.7 327.3,416.2 319.3,416.5 311.2,416.7 303.2,416.8 295.1,416.8 287.1,416.6 279.1,416.4" fill="#320306"/><ellipse cx="307.2" cy="398.0" rx="15" ry="12" fill="#240204" opacity="0.55" filter="url(#b2)"/><path d="M285.1,413.7 L309.1,393.2 L329.1,394.2 L309.1,404.7 Z" fill="#e0121b" opacity="0.34" filter="url(#b1)"/><path d="M283.1,389.2 L305.1,387.2 L293.1,399.2 Z" fill="#b30c15" opacity="0.34" filter="url(#b1)"/><polygon points="327.3,382.7 334.5,382.4 341.6,381.9 348.8,381.4 355.9,380.8 363.0,380.1 370.2,379.3 370.2,412.7 363.0,413.5 355.9,414.2 348.8,414.8 341.6,415.4 334.5,415.8 327.3,416.2" fill="#2c0205"/><ellipse cx="352.8" cy="395.8" rx="15" ry="12" fill="#240204" opacity="0.55" filter="url(#b2)"/><path d="M333.3,412.7 L357.3,392.2 L377.3,393.2 L357.3,403.7 Z" fill="#e0121b" opacity="0.2" filter="url(#b1)"/><path d="M331.3,388.2 L353.3,386.2 L341.3,398.2 Z" fill="#b30c15" opacity="0.2" filter="url(#b1)"/><polygon points="370.2,379.3 379.2,378.2 388.3,377.0 397.3,375.6 406.3,374.1 415.3,372.5 424.4,370.7 424.4,403.8 415.3,405.6 406.3,407.3 397.3,408.9 388.3,410.3 379.2,411.6 370.2,412.7" fill="#280205"/><ellipse cx="401.3" cy="389.6" rx="15" ry="12" fill="#240204" opacity="0.55" filter="url(#b2)"/><path d="M376.2,408.4 L400.2,388.1 L420.2,389.1 L400.2,399.4 Z" fill="#e0121b" opacity="0.13" filter="url(#b1)"/><path d="M374.2,384.1 L396.2,382.1 L384.2,394.1 Z" fill="#b30c15" opacity="0.13" filter="url(#b1)"/><polygon points="200.5,408.1 213.2,410.2 225.9,412.0 238.6,413.4 251.3,414.7 264.0,415.6 276.7,416.3 276.7,452.5 264.0,451.7 251.3,450.7 238.6,449.5 225.9,448.0 213.2,446.2 200.5,444.1" fill="#5a060a"/><ellipse cx="242.6" cy="429.9" rx="15" ry="12" fill="#240204" opacity="0.55" filter="url(#b2)"/><path d="M220.0,444.7 L244.0,421.7 L264.0,422.7 L244.0,435.7 Z" fill="#e0121b" opacity="0.92" filter="url(#b1)"/><path d="M228.0,444.7 L264.0,431.7 L274.0,441.7 L244.0,445.7 Z" fill="#c30e17" opacity="0.8" filter="url(#b1)"/><polygon points="276.7,416.3 285.0,416.6 293.3,416.7 301.5,416.8 309.8,416.7 318.1,416.5 326.3,416.2 326.3,452.8 318.1,453.0 309.8,453.2 301.5,453.1 293.3,453.0 285.0,452.8 276.7,452.5" fill="#2e0205"/><ellipse cx="305.5" cy="433.0" rx="15" ry="12" fill="#240204" opacity="0.55" filter="url(#b2)"/><path d="M282.7,449.9 L306.7,426.6 L326.7,427.6 L306.7,440.9 Z" fill="#e0121b" opacity="0.34" filter="url(#b1)"/><path d="M280.7,422.6 L302.7,420.6 L290.7,432.6 Z" fill="#b30c15" opacity="0.34" filter="url(#b1)"/><polygon points="326.3,416.2 333.4,415.9 340.4,415.5 347.4,414.9 354.5,414.3 361.5,413.7 368.5,412.9 368.5,450.0 361.5,450.6 354.5,451.2 347.4,451.8 340.4,452.2 333.4,452.5 326.3,452.8" fill="#240204"/><ellipse cx="351.4" cy="431.0" rx="15" ry="12" fill="#240204" opacity="0.55" filter="url(#b2)"/><path d="M332.3,449.4 L356.3,425.7 L376.3,426.7 L356.3,440.4 Z" fill="#e0121b" opacity="0.2" filter="url(#b1)"/><path d="M330.3,421.7 L352.3,419.7 L340.3,431.7 Z" fill="#b30c15" opacity="0.2" filter="url(#b1)"/><polygon points="368.5,412.9 377.3,411.8 386.0,410.6 394.8,409.3 403.5,407.8 412.3,406.2 421.1,404.5 421.1,442.3 412.3,443.9 403.5,445.4 394.8,446.7 386.0,447.9 377.3,449.0 368.5,450.0" fill="#200204"/><ellipse cx="398.8" cy="425.4" rx="15" ry="12" fill="#240204" opacity="0.55" filter="url(#b2)"/><path d="M374.5,445.9 L398.5,421.6 L418.5,422.6 L398.5,436.9 Z" fill="#e0121b" opacity="0.13" filter="url(#b1)"/><path d="M372.5,417.6 L394.5,415.6 L382.5,427.6 Z" fill="#b30c15" opacity="0.13" filter="url(#b1)"/><polyline points="208.0,376.4 226.2,378.9 244.3,380.8 262.5,382.2 280.7,383.0 298.8,383.3 317.0,383.1 335.2,382.3 353.3,381.0 371.5,379.2 389.7,376.8 407.8,373.9 426.0,370.4" stroke="#c4121b" stroke-width="1.6" fill="none"/><polyline points="208.0,409.4 226.2,412.0 244.3,414.0 262.5,415.5 280.7,416.4 298.8,416.8 317.0,416.6 335.2,415.8 353.3,414.4 371.5,412.5 389.7,410.1 407.8,407.0 426.0,403.4" stroke="#c4121b" stroke-width="1.6" fill="none"/><path d="M283.0,349.1 L276.0,452.4" stroke="#8f0a12" stroke-width="1.8" fill="none"/><path d="M329.0,349.9 L326.0,452.8" stroke="#8f0a12" stroke-width="1.8" fill="none"/><path d="M373.0,347.5 L368.0,450.0" stroke="#8f0a12" stroke-width="1.8" fill="none"/><path d="M219,341 L207.5,446 L214,447 L225,342 Z" fill="#5e060b"/>
</g>

<!-- turn window -->
<path d="M192,224 C230,227.5 270,230 310,231.5 C335,232.5 355,232.5 375,231 C392,229.5 404,226.5 414,227 C433,229 445,246 445,266 C445,290 434,309 410,316 C390,321 350,324 310,324 C270,323.5 230,321 186,317 Z" fill="url(#winG)" stroke="#f6dfe0" stroke-width="2.2"/>
<path d="M193,226 L229,229 L223,317 L187,317 Z" fill="#a8a8ae" opacity="0.42"/>
<path d="M195,227 L199,227 L194,318 L190,318 Z" fill="#8e8e92"/>
<path d="M205,228 L210,228 L205,317 L200,317 Z" fill="#9a9aa0" opacity="0.5"/>
<path d="M220,228 L228,228 L223,317 L215,317 Z" fill="#fbfbfc"/>
<g clip-path="url(#turnClip)"><g transform="translate(0,3)">
  <rect x="220" y="220" width="225" height="94" fill="#8a8a8e"/>
  <!-- left amber block + dark circle -->
  <path d="M229,230 L281,231 L279,262 L229,262 Z" fill="#a8561a"/>
  <circle cx="251" cy="243" r="11.5" fill="#2b130a"/>
  <path d="M262,232 L266,232 L265,256 L261,256 Z" fill="#e9e4de"/><path d="M272,238 L276,238 L274,262 L270,262 Z" fill="#2b130a"/>
  <!-- big dark quarter disc -->
  <path d="M227,262 C258,262 284,284 286,318 L224,318 Z" fill="#27120a"/>
  <path d="M226,290 C240,292 258,304 262,318 L224,318 Z" fill="#6a2c0a" opacity="0.8"/>
  <!-- thin stripes between -->
  <path d="M262,256 L280,254 L283,280 L276,286 Z" fill="#d9d9dc"/><path d="M268,258 L271,258 L280,284 L277,285 Z" fill="#2b2b2e"/>
  <!-- white facets -->
  <rect x="280" y="231" width="13" height="58" fill="#efeff0"/>
  <rect x="292.5" y="231" width="2.5" height="58" fill="#d2691a"/>
  <rect x="295" y="231" width="20" height="58" fill="#e4e4e6"/>
  <rect x="315" y="231" width="3" height="60" fill="#c9601a"/>
  <rect x="318" y="231" width="12" height="58" fill="#dcdcdf"/>
  <rect x="296" y="234" width="12" height="5" fill="#2c2c30"/><rect x="297" y="248" width="16" height="3" fill="#9a9a9e"/>
  <rect x="297" y="265" width="8" height="7" fill="#2c2c30"/><rect x="296" y="279" width="8" height="8" fill="#2c2c30"/>
  <rect x="320" y="240" width="8" height="6" fill="#3a3a3e"/><rect x="321" y="262" width="7" height="7" fill="#3a3a3e"/>
  <!-- lower-left gray with dark squares -->
  <path d="M278,291 L330,286 L336,318 L286,318 Z" fill="#8e8e92"/>
  <rect x="288" y="294" width="9" height="6" fill="#2a2a2e"/><rect x="304" y="291" width="9" height="6" fill="#d8d8db"/><rect x="296" y="304" width="9" height="7" fill="#2a2a2e"/><rect x="312" y="300" width="9" height="6" fill="#2a2a2e"/><rect x="304" y="311" width="9" height="5" fill="#dadadd"/>
  <!-- black crescent behind bulb -->
  <circle cx="372" cy="256" r="22" fill="#17110d"/>
  <!-- bulb -->
  <circle cx="350" cy="259" r="26" fill="#b85c18"/>
  <circle cx="350" cy="259" r="26" fill="none" stroke="#e08a3a" stroke-width="1.5" opacity="0.6"/>
  <circle cx="355" cy="256" r="19.5" fill="#48160a"/>
  <path d="M340,275 C348,282 362,282 372,274 C368,284 350,290 338,282 Z" fill="#a84a0c"/>
  <!-- right amber facets -->
  <path d="M384,231 L436,236 L442,296 L384,282 Z" fill="#aa5a1a"/>
  <path d="M392,236 L440,242 L441,262 L390,254 Z" fill="#8a420e" opacity="0.8"/>
  <path d="M395,232 L397.5,232 L398,288 L395.5,288 Z" fill="#efe9e2"/><path d="M412,234 L414.5,234 L416,292 L413.5,292 Z" fill="#efe9e2"/><path d="M428,238 L430.5,238 L432,294 L429.5,294 Z" fill="#efe9e2"/>
  <path d="M380,272 L398,270 L400,290 L384,286 Z" fill="#d8d4d0"/><path d="M400,274 L414,276 L415,292 L401,290 Z" fill="#9a6a3a"/><path d="M416,278 L430,280 L432,296 L418,294 Z" fill="#d0ccc8"/>
  <path d="M430,250 L440,254 L440,290 L432,290 Z" fill="#3a2414"/>
  <!-- dark swoosh -->
  <path d="M286,289 C310,284 350,284 380,287 C405,290 425,294 442,298 L442,303 C420,302 400,300 380,302 C350,304 320,306 290,308 Z" fill="#120e0c"/>
  <!-- below swoosh -->
  <path d="M330,305 C360,302 400,300 440,302 L430,318 L336,318 Z" fill="#4e260c"/>
  <path d="M340,308 L372,305 L376,316 L344,317 Z" fill="#7a7470" opacity="0.8"/>
  <path d="M384,303 L420,303 L416,314 L386,315 Z" fill="#8a4a14"/>
  <path d="M398,300 L400,300 L401,316 L399,316 Z" fill="#d8d4d0"/>
</g></g>
<path d="M229,231 C250,232.5 280,234 310,235 C335,236 355,236 375,234.5 C392,233 404,230 413,230.5 C430,232 441.5,248 441.5,266 C441.5,288 431,306 409,312.5 C389,317.5 350,320.5 310,320.5 C275,320 250,318.5 223,316.5 Z" fill="none" stroke="#ffffff" stroke-width="1" opacity="0.6"/>

<!-- reverse window -->
<path d="M176,467 C205,472 235,476 260,477 C290,479 330,480.5 362,482 C392,484 409,498 409,518 C409,543 392,562 362,562 C330,562 290,560 260,556 C235,552 205,547 172,542 Z" fill="url(#winG)" stroke="#f6dfe0" stroke-width="2.2"/>
<g clip-path="url(#revClip)">
  <rect x="170" y="460" width="245" height="110" fill="#303034"/>
  <!-- light left facets -->
  <path d="M170,466 L211,474 L205,548 L168,542 Z" fill="#e6e6e8"/>
  <path d="M187,470 L192,471 L190,520 L185,519 Z" fill="#a8a8ac"/><path d="M197,472 L201,473 L196,546 L193,545 Z" fill="#bcbcc0"/>
  <path d="M203,473 L211,474 L207,500 L200,512 Z" fill="#8a8a8e"/>
  <!-- dark zone highlights -->
  <path d="M214,524 L238,500 L246,528 L226,546 Z" fill="#5c5c60"/>
  <path d="M222,484 L236,486 L230,500 L220,498 Z" fill="#55555a"/>
  <!-- white facets (upper middle) -->
  <path d="M259,480 L304,483 L304,520 L240,528 Z" fill="#ececee"/>
  <path d="M268,482 L274,482 L268,512 L262,514 Z" fill="#a2a2a6"/><path d="M283,483 L288,483 L286,520 L281,520 Z" fill="#b8b8bc"/><path d="M295,484 L299,484 L298,506 L294,506 Z" fill="#77777b"/>
  <!-- lower middle streaks -->
  <path d="M246,530 L304,523 L306,556 L252,550 Z" fill="#6e6e72"/>
  <path d="M256,532 L262,531 L264,550 L258,550 Z" fill="#d4d4d8"/><path d="M272,529 L277,528 L280,552 L275,552 Z" fill="#242428"/><path d="M288,526 L294,525 L296,554 L290,554 Z" fill="#cfcfd3"/>
  <!-- bulb -->
  <circle cx="327" cy="499" r="24.5" fill="#b6b6ba"/>
  <circle cx="327" cy="499" r="24.5" fill="none" stroke="#e2e2e5" stroke-width="1.6"/>
  <circle cx="331" cy="496" r="17.5" fill="#45454a"/>
  <circle cx="334" cy="498" r="11.5" fill="#8e8e92"/>
  <path d="M304,510 C310,522 330,528 346,518 L350,524 L304,524 Z" fill="#dadadd"/>
  <!-- dark triangle right of bulb -->
  <path d="M345,483 L363,485 L351,514 Z" fill="#1e1e22"/>
  <!-- right stripes -->
  <path d="M360,485 L404,492 L405,526 L352,522 Z" fill="#e9e9eb"/>
  <path d="M368,486 L372,486 L372,523 L368,523 Z" fill="#3c3c40"/><path d="M383,488 L388,489 L388,524 L383,524 Z" fill="#4a4a4e"/><path d="M395,492 L399,493 L399,525 L395,525 Z" fill="#3c3c40"/>
  <path d="M374,500 L382,500 L382,512 L374,512 Z" fill="#b0b0b4"/>
  <!-- bottom right gray -->
  <path d="M364,536 L404,528 L398,552 L366,558 Z" fill="#86868a"/>
  <path d="M318,538 C332,530 350,530 362,538" stroke="#8c8c90" stroke-width="3" fill="none"/>
  <path d="M310,546 L350,544 L352,556 L312,557 Z" fill="#55555a"/>
</g>
<path d="M179,471 C205,475.5 235,479.5 260,480.5 C290,482.5 330,484 361,485.5 C388,487 405.5,500 405.5,518 C405.5,541 389,558.5 361,558.5 C330,558.5 290,556.5 260,552.5 C235,549 205,544.5 175.5,539.5 Z" fill="none" stroke="#ffffff" stroke-width="1" opacity="0.6"/>

<!-- chrome strips left -->
<path d="M173.5,224 L192.5,224 L187,322 L166.5,322 Z" fill="#2a1216"/>
<path d="M173.5,224 L188.5,224 L182,322 L166.5,322 Z" fill="url(#chromeV)"/>
<path d="M156,461 L176,461 L171.5,549 L150.5,549 Z" fill="#2a1216"/>
<path d="M156,461 L171,461 L165.5,549 L150.5,549 Z" fill="url(#chromeV)"/>

<g font-family="'Liberation Sans', sans-serif" fill="#48484a">
<text x="28.91" y="153.0" textLength="88.63" lengthAdjust="spacingAndGlyphs" font-size="22.3">RED LENS</text>
<text x="46.88" y="231.0" textLength="51.75" lengthAdjust="spacingAndGlyphs" font-size="22.3">TURN</text>
<text x="45.92" y="252.0" textLength="69.63" lengthAdjust="spacingAndGlyphs" font-size="22.3">SIGNAL</text>
<text x="45.87" y="385.0" textLength="60.70" lengthAdjust="spacingAndGlyphs" font-size="22.3">BRAKE</text>
<text x="33.93" y="490.5" textLength="78.62" lengthAdjust="spacingAndGlyphs" font-size="22.3">REVERSE</text>
<text x="691.91" y="145.0" textLength="83.64" lengthAdjust="spacingAndGlyphs" font-size="22.3">CHROME</text>
<text x="687.89" y="164.5" textLength="88.73" lengthAdjust="spacingAndGlyphs" font-size="22.3">HOUSING</text>
<text x="733.80" y="358.0" textLength="41.87" lengthAdjust="spacingAndGlyphs" font-size="22.3">SIDE</text>
<text x="697.87" y="378.0" textLength="78.76" lengthAdjust="spacingAndGlyphs" font-size="22.3">MARKER</text>
<text x="652.88" y="502.0" textLength="88.76" lengthAdjust="spacingAndGlyphs" font-size="22.3">RUNNING</text>
<text x="685.86" y="522.0" textLength="54.23" lengthAdjust="spacingAndGlyphs" font-size="22.3">LIGHT</text>
<text x="662.86" y="580.5" textLength="69.74" lengthAdjust="spacingAndGlyphs" font-size="22.3">SAFETY</text>
<text x="627.92" y="600.5" textLength="104.64" lengthAdjust="spacingAndGlyphs" font-size="22.3">REFLECTOR</text>
</g>
<line x1="31" y1="160" x2="182" y2="160" stroke="#f01c26" stroke-width="2.4" stroke-dasharray="6.3 3.3"/><circle cx="187" cy="160" r="6.9" fill="#e5101c"/><circle cx="187" cy="160" r="4.75" fill="#fff"/>
<line x1="47" y1="259.5" x2="346" y2="259.5" stroke="#f01c26" stroke-width="2.4" stroke-dasharray="6.3 3.3"/><circle cx="351" cy="259.5" r="6.9" fill="#e5101c"/><circle cx="351" cy="259.5" r="4.75" fill="#fff"/>
<line x1="48" y1="392" x2="263" y2="392" stroke="#f01c26" stroke-width="2.4" stroke-dasharray="6.3 3.3"/><circle cx="268" cy="392" r="6.9" fill="#e5101c"/><circle cx="268" cy="392" r="4.75" fill="#fff"/>
<line x1="35" y1="498" x2="324" y2="498" stroke="#f01c26" stroke-width="2.4" stroke-dasharray="6.3 3.3"/><circle cx="329" cy="498" r="6.9" fill="#e5101c"/><circle cx="329" cy="498" r="4.75" fill="#fff"/>
<line x1="588" y1="172.5" x2="773" y2="172.5" stroke="#f01c26" stroke-width="2.4" stroke-dasharray="6.3 3.3"/><circle cx="583" cy="172.5" r="6.9" fill="#e5101c"/><circle cx="583" cy="172.5" r="4.75" fill="#fff"/>
<line x1="461" y1="386" x2="774" y2="386" stroke="#f01c26" stroke-width="2.4" stroke-dasharray="6.3 3.3"/><circle cx="456" cy="386" r="6.9" fill="#e5101c"/><circle cx="456" cy="386" r="4.75" fill="#fff"/>
<line x1="468" y1="530" x2="739" y2="530" stroke="#f01c26" stroke-width="2.4" stroke-dasharray="6.3 3.3"/><circle cx="463" cy="530" r="6.9" fill="#e5101c"/><circle cx="463" cy="530" r="4.75" fill="#fff"/>
<line x1="531" y1="608" x2="727" y2="608" stroke="#f01c26" stroke-width="2.4" stroke-dasharray="6.3 3.3"/><circle cx="526" cy="608" r="6.9" fill="#e5101c"/><circle cx="526" cy="608" r="4.75" fill="#fff"/>
</svg>
</body></html>
